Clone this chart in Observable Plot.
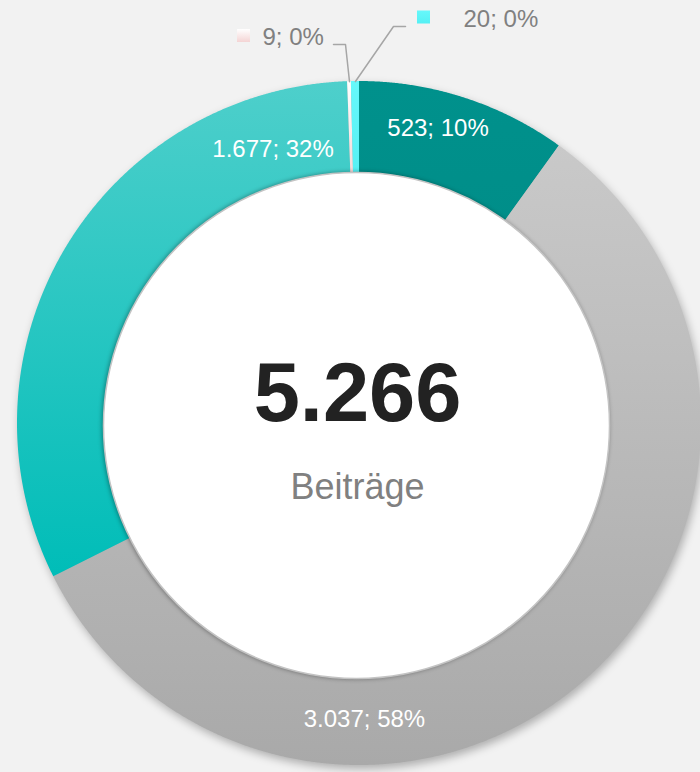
<!DOCTYPE html>
<html><head><meta charset="utf-8">
<script src="https://cdn.jsdelivr.net/npm/d3@7"></script>
<script src="https://cdn.jsdelivr.net/npm/@observablehq/plot@0.6"></script>
<style>
html,body{margin:0;padding:0;background:#f2f2f2;overflow:hidden;}
.ring-shadow{filter:blur(4px);}
.hole{filter:drop-shadow(-1px 0px 2px rgba(0,0,0,0.35));}
</style></head><body><div id="chart"></div>
<script>
// ---- data ----
const categories = ["s1", "s2", "s3", "s4", "s5"];
const values = [523, 3037, 1677, 9, 20];
const centerCaption = "Beiträge";

// ---- styles / layout (not data) ----
const gradients = [
  ["#00918c", "#008e89"],
  ["#c9c9c9", "#a9a9a9"],
  ["#4ecfcb", "#00bdb8"],
  ["#ffffff", "#f4d4d4"],
  ["#66f8fb", "#55f0f4"]
];
const cx = 359, cy = 423, R = 342, R0 = 240;
const hole = {x: 356, y: 425, r: 253};
// inside labels: [angle in degrees, radius] for baseline anchor; null -> leader label
const labelPolar = [[15.25, 298.5], [179.06, 303.5], [-18.0, 279.7], null, null];
// leader labels: elbow point, end point, text start, key square center
const leaders = [
  null, null, null,
  {elbow: [345, 44], end: [333, 44], text: [262, 44], key: [243.5, 35.5]},
  {elbow: [393, 26], end: [405, 26], text: [463, 26], key: [423.5, 17]}
];

const total = d3.sum(values);
const de = d3.formatLocale({decimal: ",", thousands: ".", grouping: [3], currency: ["", " €"]});
const fmt = de.format(",d");
const labelText = values.map(v => `${fmt(v)}; ${Math.round(v / total * 100)}%`);

const pie = d3.pie().sort(null).value(d => d)(values);
const pt = (a, rho) => ({x: cx + rho * Math.sin(a), y: cy - rho * Math.cos(a)});

const slicePts = pie.map((p, i) => {
  const a0 = p.startAngle, a1 = p.endAngle;
  const n = Math.max(2, Math.ceil((a1 - a0) / 0.004));
  const pts = [];
  for (let k = 0; k <= n; k++) {
    const a = a0 + (a1 - a0) * k / n;
    const o = pt(a, R), q = pt(a, R0);
    pts.push({ox: o.x, oy: o.y, ix: q.x, iy: q.y, key: categories[i]});
  }
  return pts;
});

const insideLabels = [];
const leaderLines = [];
const leaderTexts = [];
const keyRects = [];
pie.forEach((p, i) => {
  if (labelPolar[i]) {
    const a = labelPolar[i][0] * Math.PI / 180;
    insideLabels.push({...pt(a, labelPolar[i][1]), text: labelText[i]});
  } else {
    const L = leaders[i];
    const mid = (p.startAngle + p.endAngle) / 2;
    const s = pt(mid, R);
    leaderLines.push({x: s.x, y: s.y, key: categories[i]});
    leaderLines.push({x: L.elbow[0], y: L.elbow[1], key: categories[i]});
    leaderLines.push({x: L.end[0], y: L.end[1], key: categories[i]});
    leaderTexts.push({x: L.text[0], y: L.text[1], text: labelText[i]});
    keyRects.push({x1: L.key[0] - 6.5, x2: L.key[0] + 6.5, y1: L.key[1] - 6.5, y2: L.key[1] + 6.5, i});
  }
});

const font = "'Liberation Sans', Arial, sans-serif";
const marks = [];
marks.push(Plot.area(slicePts.flat(), {x1: "ox", y1: "oy", x2: "ix", y2: "iy", z: "key", fill: "#000", fillOpacity: 0.28, dx: 2, dy: 4, className: "ring-shadow"}));
slicePts.forEach((pts, i) => {
  marks.push(Plot.area(pts, {x1: "ox", y1: "oy", x2: "ix", y2: "iy", fill: `url(#grad${i})`}));
});
marks.push(Plot.dot([hole], {x: "x", y: "y", r: hole.r, fill: "white", stroke: "#c4c4c4", strokeWidth: 1.5, className: "hole"}));
marks.push(Plot.line(leaderLines, {x: "x", y: "y", z: "key", stroke: "#a6a6a6", strokeWidth: 1.5}));
keyRects.forEach(k => {
  marks.push(Plot.rect([k], {x1: "x1", x2: "x2", y1: "y1", y2: "y2", fill: `url(#grad${k.i})`, inset: 0}));
});
marks.push(Plot.text(leaderTexts, {x: "x", y: "y", text: "text", textAnchor: "start", lineAnchor: "bottom", fill: "#808080", fontSize: 24, fontFamily: font}));
marks.push(Plot.text(insideLabels, {x: "x", y: "y", text: "text", lineAnchor: "bottom", fill: "white", fontSize: 24, fontFamily: font}));
marks.push(Plot.text([{x: 357, y: 420, t: fmt(total)}], {x: "x", y: "y", text: "t", lineAnchor: "bottom", fill: "#222222", fontSize: 83, fontWeight: "bold", fontFamily: font}));
marks.push(Plot.text([{x: 357, y: 498, t: centerCaption}], {x: "x", y: "y", text: "t", lineAnchor: "bottom", fill: "#808080", fontSize: 36, fontFamily: font}));

const chart = Plot.plot({
  width: 700, height: 772,
  marginTop: 0, marginRight: 0, marginBottom: 0, marginLeft: 0,
  x: {domain: [0, 700], range: [0, 700], axis: null},
  y: {domain: [0, 772], range: [0, 772], axis: null},
  style: {background: "#f2f2f2", fontFamily: font, overflow: "hidden"},
  marks
});

const defs = d3.select(chart).insert("defs", ":first-child");
gradients.forEach((g, i) => {
  const lg = defs.append("linearGradient").attr("id", `grad${i}`).attr("x1", 0).attr("y1", 0).attr("x2", 0).attr("y2", 1);
  lg.append("stop").attr("offset", "0%").attr("stop-color", g[0]);
  lg.append("stop").attr("offset", "100%").attr("stop-color", g[1]);
});
document.getElementById("chart").appendChild(chart);
</script>
</body></html>
